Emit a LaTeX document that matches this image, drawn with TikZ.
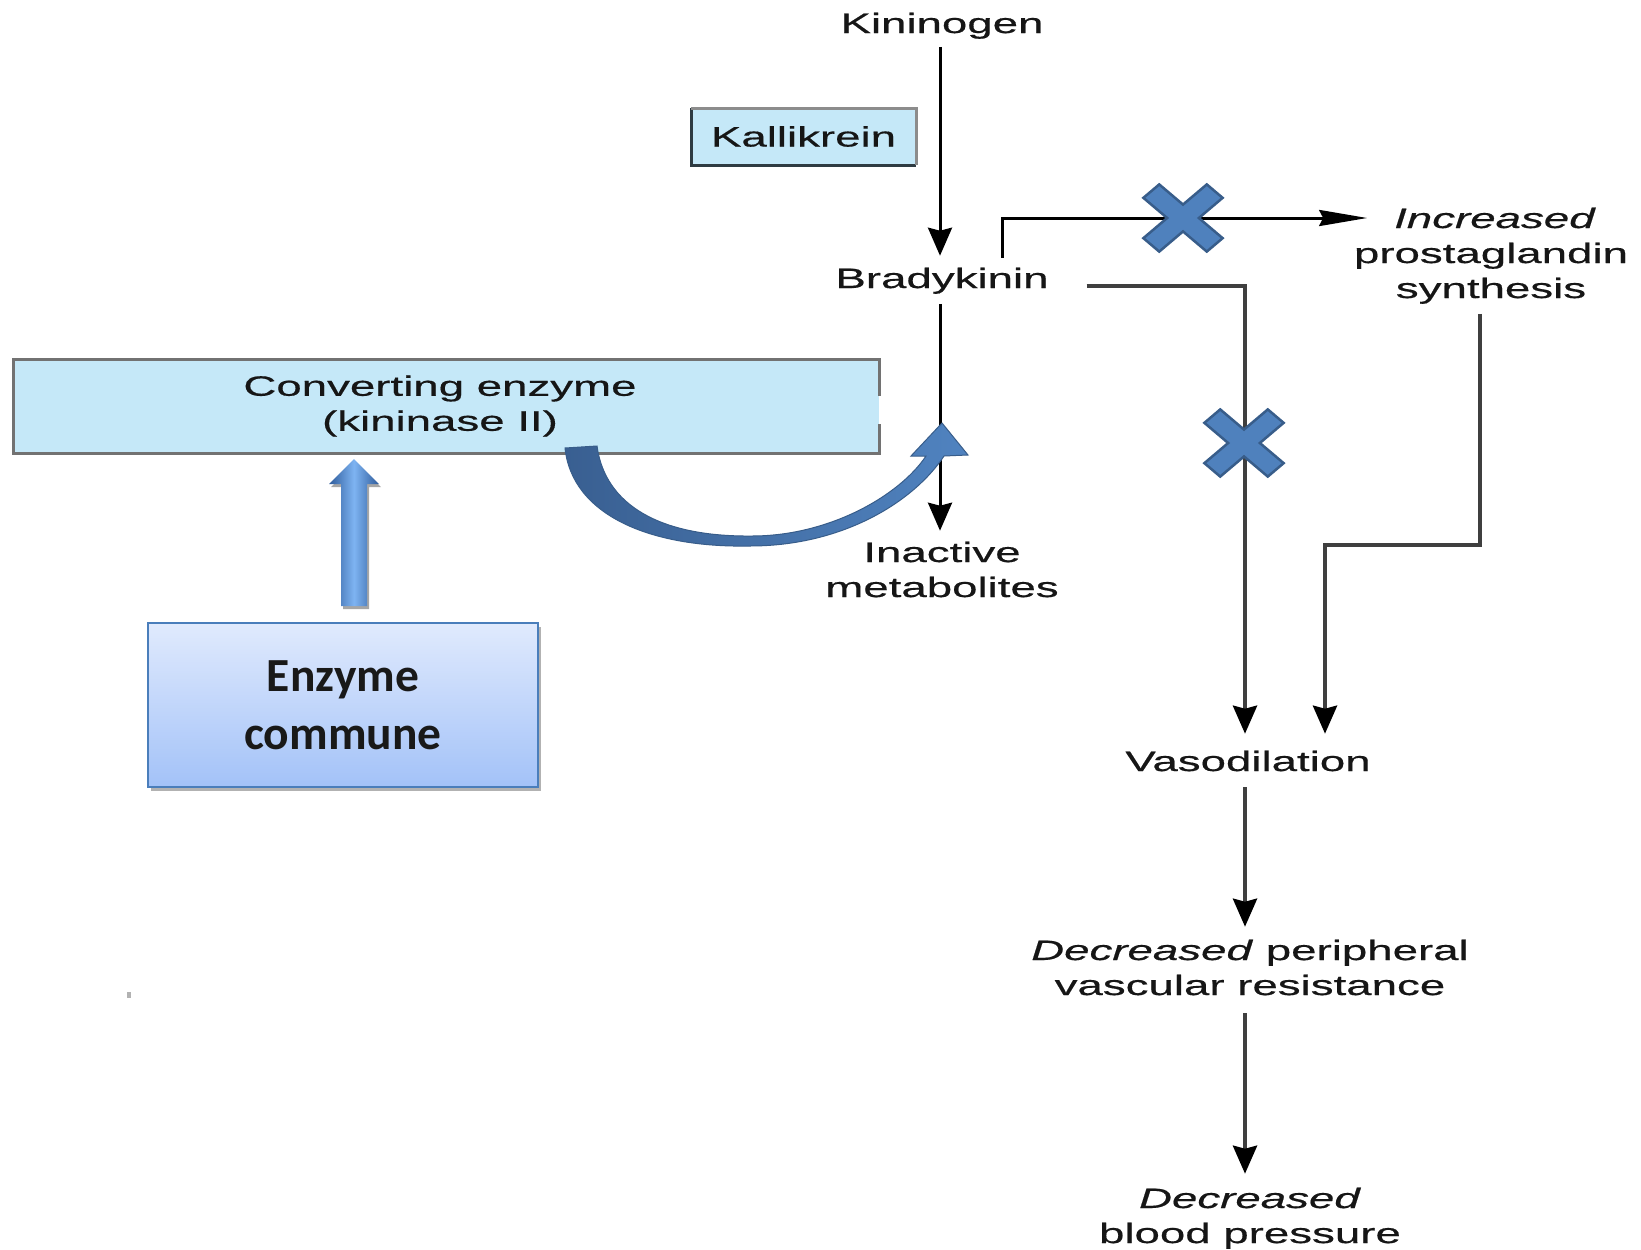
\documentclass[tikz,border=0pt]{standalone}
\usepackage{fontspec}
\setmainfont[FakeStretch=1.63, FakeBold=0.5]{Liberation Sans}
\newfontfamily\enzfont{Carlito}
\usetikzlibrary{arrows.meta,shadows,calc}

\definecolor{txt}{HTML}{161616}
\definecolor{linegray}{HTML}{3F3F3F}
\definecolor{boxfill}{HTML}{C5E8F8}
\definecolor{kdark}{HTML}{2E3B42}
\definecolor{klight}{HTML}{8C8C8C}
\definecolor{convedge}{HTML}{727272}
\definecolor{xfill}{HTML}{4F81BD}
\definecolor{xedge}{HTML}{385D8A}
\definecolor{enzedge}{HTML}{4A7EBB}
\definecolor{enztop}{HTML}{E0EAFD}
\definecolor{enzbot}{HTML}{A3C2F8}
\definecolor{curvedark}{HTML}{395F91}
\definecolor{curvelight}{HTML}{5083C0}
\definecolor{upedge}{HTML}{2F5C9C}
\definecolor{upmid}{HTML}{7EB4F2}

\tikzset{
  crossmark/.pic={
    \path[fill=xfill, draw=xedge, line width=2.5pt, line join=miter, xscale=1.18, rotate=45]
      (9.5,9.5) -- (38,9.5) -- (38,-9.5) -- (9.5,-9.5) -- (9.5,-38) -- (-9.5,-38)
      -- (-9.5,-9.5) -- (-38,-9.5) -- (-38,9.5) -- (-9.5,9.5) -- (-9.5,38) -- (9.5,38) -- cycle;
  }
}

\begin{document}
\begin{tikzpicture}[x=1pt,y=-1pt,
  lbl/.style={inner sep=0pt, outer sep=0pt, font=\fontsize{28}{35}\selectfont, text=txt, align=center},
  blk/.style={line width=3pt, draw=black},
  gry/.style={line width=4pt, draw=linegray},
  vtip/.style={-{Stealth[length=28pt,width=24pt,inset=3pt,color=black]}},
  htip/.style={-{Stealth[length=48pt,width=16pt,inset=4pt,color=black]}},
  kalbox/.style={lbl, fill=boxfill, minimum width=225pt, minimum height=57pt},
  convbox/.style={lbl, fill=boxfill, minimum width=866pt, minimum height=94pt},
  enzbox/.style={inner sep=0pt, minimum width=390pt, minimum height=164pt, draw=enzedge,
    line width=2pt, top color=enztop, bottom color=enzbot, align=center,
    font=\enzfont\bfseries\fontsize{47.5}{58}\selectfont, text=black!90,
    drop shadow={shadow xshift=3pt, shadow yshift=-4pt, opacity=0.3, fill=black}},
]
\useasboundingbox[fill=white] (0,0) rectangle (1641,1250);

% text nodes (base anchor of a multi-line node = baseline of its last line)
\node[lbl, anchor=base] (kin) at (942,33) {Kininogen};
\node[kalbox] (kal) at (803.5,136.5) {Kallikrein};
\node[lbl, anchor=base] (brady) at (942,288) {Bradykinin};
\node[lbl, anchor=base] (inc) at (1495,228) {\textit{Increased}};
\node[lbl, anchor=base] (pg) at (1491,298) {prostaglandin\\synthesis};
\node[lbl, anchor=base] (inact) at (942,597) {Inactive\\metabolites};
\node[lbl, anchor=base] (vaso) at (1248,771) {Vasodilation};
\node[lbl, anchor=base] (dpvr) at (1250,995) {\textit{Decreased} peripheral\\vascular resistance};
\node[lbl, anchor=base] (dbp) at (1250,1243) {\textit{Decreased}\\blood pressure};
\node[convbox] (conv) at (446,406) {\hspace*{-12pt}Converting enzyme\\\hspace*{-12pt}(kininase II)};
\node[enzbox] (enz) at (343,705) {Enzyme\\commune};

% Kallikrein box edges
\draw[kdark, line width=3pt] (kal.north west) -- (kal.south west) -- (kal.south east);
\draw[klight, line width=3pt] (kal.south east) -- (kal.north east) -- (kal.north west);

% converting enzyme box edges, right side interrupted
\draw[convedge, line width=3pt]
  ([yshift=29pt]conv.south east) -- (conv.south east) -- (conv.south west)
  -- (conv.north west) -- (conv.north east) -- ([yshift=-37pt]conv.north east);

% kinin pathway
\draw[blk, vtip, shorten <=8pt, shorten >=12pt] ([xshift=-2pt]kin.south) -- ([xshift=-2pt]brady.north);
\draw[blk, htip, shorten >=27pt] ($(brady.north)+(60,-10)$) |- (inc.west);
\draw[blk, vtip, shorten <=10pt, shorten >=11pt] ([xshift=-2pt]brady.south) -- ([xshift=-2pt]inact.north);
\draw[gry, vtip, shorten >=17pt] ($(brady.east)+(38,5)$) -| ([xshift=-3pt]vaso.north);
\draw[gry, vtip, shorten <=10pt, shorten >=17pt] ([xshift=-11pt]pg.south) -- ++(0,241) -| ([xshift=77pt]vaso.north);
\draw[gry, vtip, shorten <=16pt, shorten >=13pt] ([xshift=-3pt]vaso.south) -- ([xshift=-3pt]vaso.south |- dpvr.north);
\draw[gry, vtip, shorten <=18pt, shorten >=14pt] ([xshift=-5pt]dpvr.south) -- ([xshift=-5pt]dpvr.south |- dbp.north);

% blocked routes
\pic at (1183,218) {crossmark};
\pic at (1244,443) {crossmark};

% enzyme acting on bradykinin: curved block arrow
\begin{scope}[shift={(conv.south west)}]
  \path[draw=xedge, line width=1pt, left color=curvedark, right color=curvelight]
    (552,-5) .. controls (559,62) and (637,95) .. (737,93)
    .. controls (832,93) and (902,47) .. (931,3)
    -- (955,2) -- (929,-30) -- (898,3) -- (913,3)
    .. controls (887,42) and (817,83) .. (739,83)
    .. controls (647,84) and (592,52) .. (584,-7) -- cycle;
\end{scope}

% common enzyme pointing to the converting enzyme
\coordinate (ub) at ($(enz.north)+(11,-16)$);
\coordinate (ut) at ($(conv.south)+(-92,6)$);
\path[left color=upedge, right color=upedge, middle color=upmid,
      drop shadow={shadow xshift=2pt, shadow yshift=-3pt, opacity=0.35, fill=black}]
  ($(ub)+(-13,0)$) -- ($(ut)+(-13,25)$) -- ($(ut)+(-25,25)$) -- (ut)
  -- ($(ut)+(25,25)$) -- ($(ut)+(13,25)$) -- ($(ub)+(13,0)$) -- cycle;

% small speck
\fill[black!30] (127,992) rectangle (131,998);
\end{tikzpicture}
\end{document}
